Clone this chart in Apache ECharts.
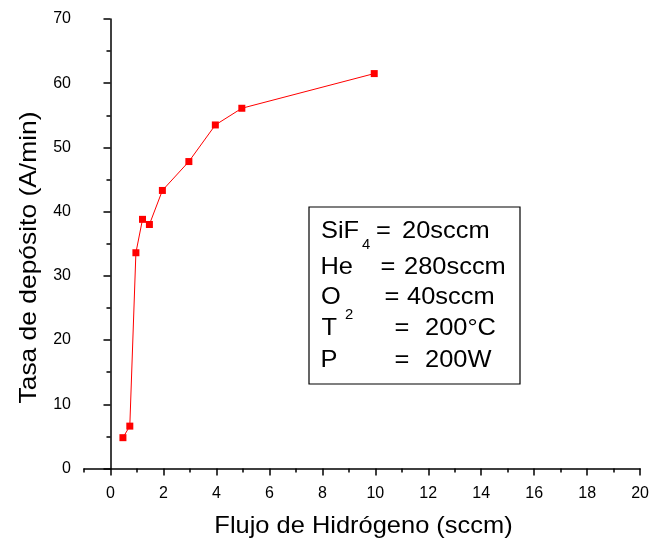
<!DOCTYPE html>
<html>
<head>
<meta charset="utf-8">
<script src="https://cdn.jsdelivr.net/npm/echarts@6/dist/echarts.min.js"></script>
<style>html,body{margin:0;padding:0;background:#fff}#c{width:652px;height:542px}</style>
</head>
<body>
<div id="c"></div>
<script>
const flujo = [0.47, 0.73, 0.96, 1.21, 1.47, 1.96, 2.96, 3.96, 4.96, 9.96];
const tasa = [4.8, 6.6, 33.6, 38.8, 38.0, 43.3, 47.8, 53.5, 56.1, 61.5];
const xMajorTicks = [0, 2, 4, 6, 8, 10, 12, 14, 16, 18, 20];
const xMinorTicks = [-1, 1, 3, 5, 7, 9, 11, 13, 15, 17, 19];
const xTitle = 'Flujo de Hidrógeno (sccm)';
const yTitle = 'Tasa de depósito (A/min)';

const chart = echarts.init(document.getElementById('c'), null, {renderer: 'canvas'});
const font = 'Arial, "Liberation Sans", sans-serif';
const black = '#000';
function txt(x, y, text, size, sx) {
  return {
    type: 'text', x: x, y: y, scaleX: sx || 1.06,
    style: {text: text, font: size + 'px ' + font, fill: black,
            textAlign: 'left', textVerticalAlign: 'middle'}
  };
}
const boxFont = 24;
chart.setOption({
  animation: false,
  backgroundColor: '#fff',
  grid: {left: 84, right: 9, top: 19, bottom: 73.5, containLabel: false},
  xAxis: [{
    type: 'value', min: -1, max: 20,
    axisLine: {show: true, lineStyle: {color: black, width: 1.5}},
    axisTick: {show: true, inside: false, length: 7, customValues: xMajorTicks, lineStyle: {color: black, width: 1.5}},
    axisLabel: {show: true, customValues: xMajorTicks, margin: 17, color: black, fontSize: 16, fontFamily: font},
    splitLine: {show: false}
  }, {
    type: 'value', min: -1, max: 20, position: 'bottom',
    axisLine: {show: false},
    axisTick: {show: true, length: 4, customValues: xMinorTicks, lineStyle: {color: black, width: 1.5}},
    axisLabel: {show: false},
    splitLine: {show: false}
  }],
  yAxis: {
    type: 'value', min: 0, max: 70, interval: 10,
    axisLine: {show: true, lineStyle: {color: black, width: 1.5}},
    axisTick: {show: true, length: 7, lineStyle: {color: black, width: 1.5}},
    minorTick: {show: true, splitNumber: 2, length: 4, lineStyle: {color: black, width: 1.5}},
    axisLabel: {margin: 13, color: black, fontSize: 16, fontFamily: font},
    splitLine: {show: false}
  },
  series: [{
    type: 'line',
    xAxisIndex: 0,
    data: flujo.map((v, i) => [v, tasa[i]]),
    symbol: 'rect', symbolSize: 7,
    itemStyle: {color: '#ff0000'},
    lineStyle: {color: '#ff0000', width: 1}
  }],
  graphic: [
    {type: 'text', x: 363.5, y: 526, scaleX: 1.06,
     style: {text: xTitle, font: '24px ' + font, fill: black, textAlign: 'center', textVerticalAlign: 'middle'}},
    {type: 'text', x: 29.5, y: 257.5, rotation: Math.PI / 2, scaleX: 1.1,
     style: {text: yTitle, font: '24px ' + font, fill: black, textAlign: 'center', textVerticalAlign: 'middle'}},
    {type: 'rect', shape: {x: 309, y: 207, width: 211, height: 177},
     style: {fill: '#fff', stroke: black, lineWidth: 1.2}},
    txt(321, 231, 'SiF', boxFont), txt(362, 245, '4', 14), txt(376, 231, '=', boxFont), txt(402, 231, '20sccm', boxFont),
    txt(320.5, 267, 'He', boxFont), txt(380.5, 267, '=', boxFont), txt(404, 267, '280sccm', boxFont),
    txt(321, 297, 'O', boxFont), txt(345, 315, '2', 14), txt(384.5, 297, '=', boxFont), txt(407, 297, '40sccm', boxFont),
    txt(321.5, 328, 'T', boxFont), txt(394.5, 328, '=', boxFont), txt(425, 328, '200°C', boxFont),
    txt(320.5, 360, 'P', boxFont), txt(394.5, 360, '=', boxFont), txt(425, 360, '200W', boxFont)
  ]
});
</script>
</body>
</html>
